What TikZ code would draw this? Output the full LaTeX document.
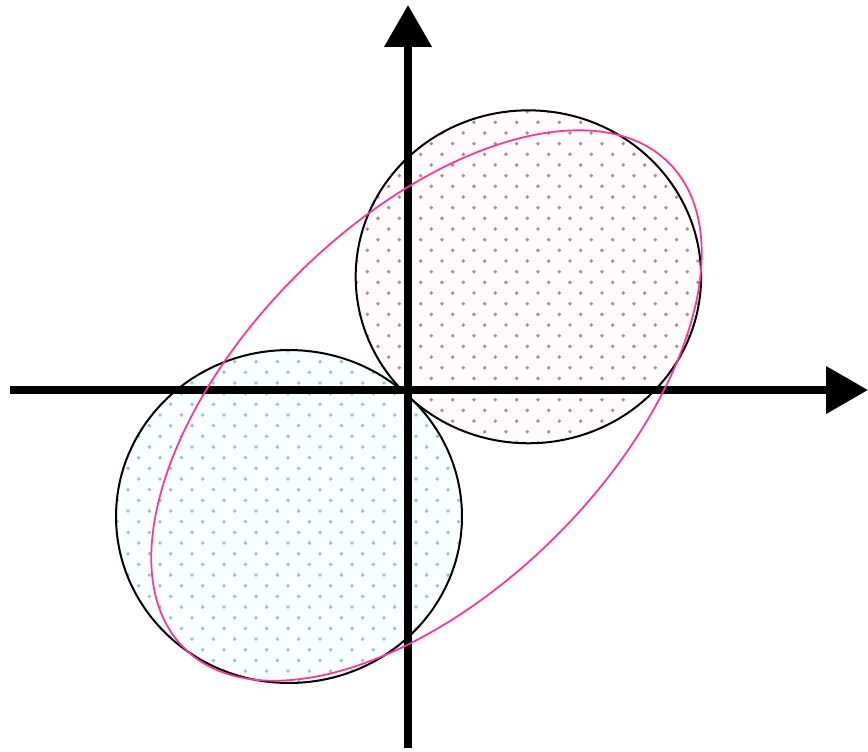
\documentclass[tikz,border=0pt]{standalone}
\usepackage{amsmath}
\usepackage{tikz}
\usetikzlibrary{arrows.meta}

\definecolor{upperbg}{HTML}{FFFBFC}
\definecolor{upperdot}{HTML}{B08890}
\definecolor{lowerbg}{HTML}{F8FFFE}
\definecolor{lowerdot}{HTML}{96C6BE}
\definecolor{hotpink}{HTML}{FF3399}

\tikzset{
  axis/.style={line width=0.15cm,-{Triangle[length=0.84cm,width=0.92cm]}},
  disc/.style={draw=black,line width=0.04cm},
  hull/.style={draw=hotpink,line width=0.035cm}
}

\begin{document}
\begin{tikzpicture}[x=0.02cm,y=-0.02cm]
\useasboundingbox (0,0) rectangle (868,751);
\coordinate (west) at (10,390);
\coordinate (east) at (868,390);
\coordinate (south) at (408,748);
\coordinate (north) at (408,5);
\coordinate (cup) at (528.4,276.8);
\coordinate (clow) at (289,516.5);
\coordinate (cell) at (426.5,405.5);
% dotted discs
\fill[upperbg] (cup) ellipse (3.455cm and 3.33cm);
\begin{scope}
\clip (cup) ellipse (3.455cm and 3.33cm);
\foreach \r in {0,...,33}
  \foreach \c in {0,...,17}
    \fill[upperdot] ({346+21.33*\c+10.67*mod(\r,2)},{101+10.67*\r}) circle (0.038cm);
\end{scope}
\fill[lowerbg] (clow) ellipse (3.46cm and 3.33cm);
\begin{scope}
\clip (clow) ellipse (3.46cm and 3.33cm);
\foreach \r in {0,...,33}
  \foreach \c in {0,...,17}
    \fill[lowerdot] ({106.7+21.33*\c+10.67*mod(\r,2)},{340.3+10.67*\r}) circle (0.038cm);
\end{scope}
% axes
\draw[axis] (west)--(east);
\draw[axis] (south)--(north);
% outlines
\draw[disc] (cup) ellipse (3.455cm and 3.33cm);
\draw[disc] (clow) ellipse (3.46cm and 3.33cm);
\draw[hull,rotate around={45:(cell)}] (cell) ellipse (6.86cm and 3.68cm);
\end{tikzpicture}
\end{document}
